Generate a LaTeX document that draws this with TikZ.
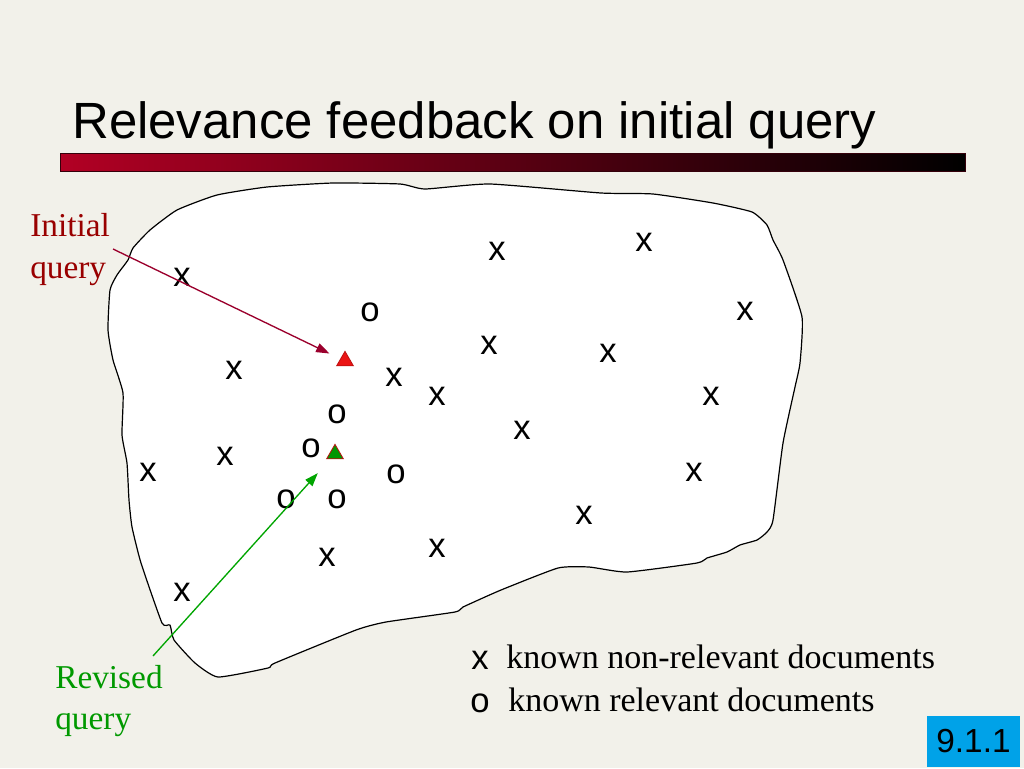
\documentclass[tikz,border=0pt]{standalone}
\usepackage{fontspec}
\setmainfont{Liberation Serif}
\setsansfont{Liberation Sans}
\usetikzlibrary{arrows.meta,shapes.geometric}
\definecolor{slidebg}{RGB}{242,241,234}
\definecolor{barred}{RGB}{178,0,36}
\definecolor{initred}{RGB}{153,0,0}
\definecolor{initarrow}{RGB}{155,0,45}
\definecolor{revgreen}{RGB}{0,153,0}
\definecolor{revarrow}{RGB}{0,165,0}
\definecolor{trired}{RGB}{235,20,20}
\definecolor{trigreen}{RGB}{0,150,0}
\definecolor{secblue}{RGB}{0,162,232}

\begin{document}
\begin{tikzpicture}[x=0.75pt, y=-0.75pt,
  docmark/.style={inner sep=0pt, font=\sffamily\fontsize{26}{26}\selectfont},
  qlabel/.style={anchor=base west, inner sep=0pt, font=\fontsize{25}{25}\selectfont},
  legtext/.style={qlabel, font=\fontsize{25.5}{25.5}\selectfont},
  qtri/.style={regular polygon, regular polygon sides=3, minimum size=14.5pt,
    inner sep=0pt, draw=trired!80!black, line width=0.6pt},
  arr/.style={-{Triangle[length=10pt, width=7pt]}, line width=1pt}]
% Background
\fill[slidebg] (0,0) rectangle (1024,768);
\useasboundingbox (0,0) rectangle (1024,768);
% Title and bar
\node[anchor=base west, inner sep=0pt, font=\sffamily\fontsize{38.2}{38.2}\selectfont] (title) at (72,138) {Relevance feedback on initial query};
\shade[left color=barred, right color=black, draw=black!70!barred, line width=0.5pt] (60,153) rectangle (965,171);
% Document space
\draw[fill=white, line width=0.9pt, line join=round] plot[smooth cycle, tension=0.3] coordinates {
  (117,275) (128,260) (133,248) (150,230) (177,210) (217,195) (267,187)
  (333,183) (400,184) (425,189) (490,184) (601,193) (653,194) (713,203)
  (752,212) (767,225) (773,240) (783,260) (802,317) (800,363) (795,387)
  (783,443) (773,520) (767,532) (757,540) (740,545) (727,552) (707,558)
  (697,563) (627,572) (589,567) (558,568) (501,590) (463,607) (455,612)
  (386,622) (356,630) (275,663) (268,668) (218,677) (195,663) (174,640)
  (170,625) (162,623) (141,563) (132,527) (129,500) (127,463) (122,435)
  (123,393) (113,360) (108,330) (110,290)};
% Non-relevant documents
\foreach \px/\py [count=\i] in {182/277, 497/251, 644/242, 745/311, 489/345,
    608/353, 234/370, 394/377, 437/396, 711/396, 522/430, 225/456, 148/472,
    694/472, 584/515, 437/548, 327/557, 182/592}
  \node[docmark] (x\i) at (\px,\py) {x};
% Relevant documents
\foreach \px/\py [count=\i] in {370/312, 337/414, 311/448, 396/474, 286/499, 337/499}
  \node[docmark] (o\i) at (\px,\py) {o};
% Queries
\node[qtri, fill=trired] (q0) at (345,361) {};
\node[qtri, fill=trigreen] (q1) at (335,454) {};
% Initial query
\node[qlabel, text=initred] (init) at (30,236) {Initial};
\node[qlabel, text=initred] (initq) at (30,278) {query};
\coordinate (initfrom) at (113,249);
\draw[arr, initarrow, shorten >=9pt] (initfrom) -- (q0);
% Revised query
\node[qlabel, text=revgreen] (rev) at (55,688) {Revised};
\node[qlabel, text=revgreen] (revq) at (55,729) {query};
\coordinate (revfrom) at (153,656);
\draw[arr, revarrow, shorten >=14pt] (revfrom) -- (q1);
% Legend
\node[docmark] (legx) at (480,660) {x};
\node[legtext] (legxt) at (506,668) {known non-relevant documents};
\node[docmark] (lego) at (480,703) {o};
\node[legtext] (legot) at (508,711) {known relevant documents};
% Section number
\node[fill=secblue, minimum width=70pt, minimum height=38pt, inner sep=0pt,
  font=\sffamily\fontsize{25}{25}\selectfont] (sec) at (973.5,741.5) {9.1.1};
\end{tikzpicture}
\end{document}
